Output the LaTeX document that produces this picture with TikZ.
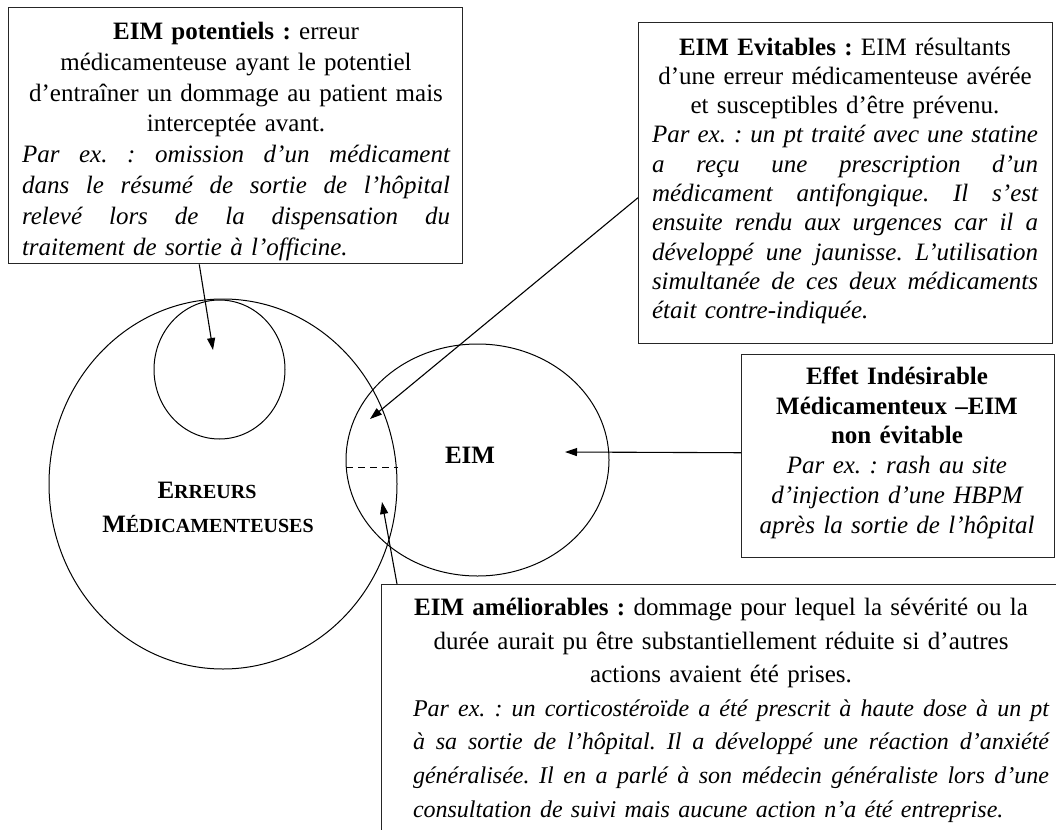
\documentclass[tikz,border=0pt]{standalone}
\usepackage{fontspec}
\setmainfont{Liberation Serif}
\usetikzlibrary{arrows.meta,calc,shapes.geometric}
\frenchspacing
\newcommand\jl[1]{\leavevmode\hbox to\hsize{\spaceskip=0.25em plus 2em minus 0.06em\xspaceskip=\spaceskip #1}}
\newcommand\lastl[1]{\leavevmode\hbox to\hsize{#1\hfil}}
\newcommand\fsc[2]{{\fontsize{25}{30}\selectfont #1}{\fontsize{20}{30}\selectfont #2}}
\begin{document}
\begin{tikzpicture}[x=1pt,y=-1pt,
 box/.style={draw=black!85, line width=1.4pt, inner sep=0pt, anchor=north west},
 txt/.style={inner sep=0pt, anchor=north, align=center},
 ring/.style={draw, ellipse, line width=1pt, inner sep=0pt},
 arr/.style={line width=1.1pt, -{Triangle[length=12pt,width=8pt]}}]
\useasboundingbox (0,0) rectangle (1056,829);
\fill[white] (0,0) rectangle (1056,829);

% circles
\node[ring, minimum width=348pt, minimum height=370pt] (err) at (223,484) {};
\node[ring, minimum width=131pt, minimum height=139pt] (pot) at (219.5,369.5) {};
\node[ring, minimum width=263pt, minimum height=232pt] (eim) at (477.5,460) {};

% boxes
\node[box, minimum width=454pt, minimum height=256pt] (A) at (8,7) {};
\node[box, minimum width=414pt, minimum height=321pt] (B) at (638,22) {};
\node[box, minimum width=313pt, minimum height=203pt] (C) at (741,354) {};
\node[box, minimum width=720pt, minimum height=320pt] (D) at (381,584) {};

% texts
\node[txt, text width=428pt, font=\fontsize{25}{30.8}\selectfont] (At) at (236,22) {%
\textbf{EIM potentiels :} erreur\\
médicamenteuse ayant le potentiel\\
d’entraîner un dommage au patient mais\\
interceptée avant.\\
\itshape\jl{Par ex. : omission d’un médicament}\\
\jl{dans le résumé de sortie de l’hôpital}\\
\jl{relevé lors de la dispensation du}\\
\lastl{traitement de sortie à l’officine.}};

\node[txt, text width=386pt, font=\fontsize{25}{29.3}\selectfont] (Bt) at (845,37.5) {%
\textbf{EIM Evitables :} EIM résultants\\
d’une erreur médicamenteuse avérée\\
et susceptibles d’être prévenu.\\
\itshape\jl{Par ex. : un pt traité avec une statine}\\
\jl{a reçu une prescription d’un}\\
\jl{médicament antifongique. Il s’est}\\
\jl{ensuite rendu aux urgences car il a}\\
\jl{développé une jaunisse. L’utilisation}\\
\jl{simultanée de ces deux médicaments}\\
\lastl{était contre-indiquée.}};

\node[txt, text width=300pt, font=\fontsize{25}{29.8}\selectfont] (Ct) at (897,366.5) {%
\textbf{Effet Indésirable}\\
\textbf{Médicamenteux –EIM}\\
\textbf{non évitable}\\
\itshape Par ex. : rash au site\\
d’injection d’une HBPM\\
après la sortie de l’hôpital};

\node[txt, text width=636pt, font=\fontsize{25}{33.6}\selectfont] (Dt) at (731,598) {%
\textbf{EIM améliorables :} dommage pour lequel la sévérité ou la\rule{20pt}{0pt}\\
durée aurait pu être substantiellement réduite si d’autres\rule{20pt}{0pt}\\
actions avaient été prises.\rule{20pt}{0pt}\\
\itshape\fontsize{24}{33.6}\selectfont
\jl{Par ex. : un corticostéroïde a été prescrit à haute dose à un pt}\\
\jl{à sa sortie de l’hôpital. Il a développé une réaction d’anxiété}\\
\jl{généralisée. Il en a parlé à son médecin généraliste lors d’une}\\
\lastl{consultation de suivi mais aucune action n’a été entreprise.}};

% circle labels
\node[font=\bfseries\fontsize{25}{30}\selectfont, anchor=base, inner sep=0pt] (eiml) at (470,463) {EIM};
\node[font=\bfseries, anchor=base, inner sep=0pt] (err1) at (207,498) {\fsc{E}{RREURS}};
\node[font=\bfseries, anchor=base, inner sep=0pt] (err2) at (208,532) {\fsc{M}{ÉDICAMENTEUSES}};

% dashed separator
\coordinate (dl) at (346,467);
\draw[line width=1pt, dash pattern=on 7pt off 5pt] (dl) -- (dl -| err.east);

% arrows
\coordinate (tA) at (213,350);
\coordinate (tB) at (370,419);
\coordinate (tC) at (565,452);
\coordinate (tD) at (382,502);
\draw[arr] ($(A.south west)!0.42!(A.south east)$) -- (tA);
\draw[arr] ($(B.north west)!0.545!(B.south west)$) -- (tB);
\draw[arr] ($(C.north west)!0.483!(C.south west)$) -- (tC);
\draw[arr] ($(D.north west)+(16,0)$) -- (tD);
\end{tikzpicture}
\end{document}
